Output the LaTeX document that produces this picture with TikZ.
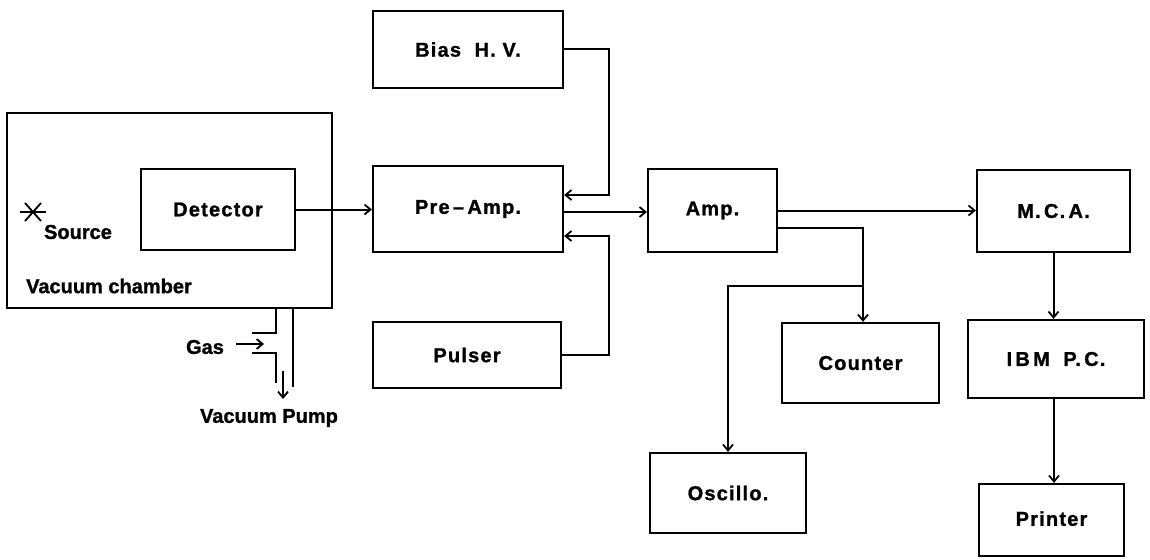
\documentclass[tikz,border=0pt]{standalone}
\usepackage{fontspec}
\setmainfont{Liberation Sans}[BoldFont={Liberation Sans Bold},BoldFeatures={FakeBold=1.2}]
\usetikzlibrary{arrows.meta}
\tikzset{
  box/.style={draw, line width=2.2pt, inner sep=0pt, font=\fontsize{20}{22}\selectfont\bfseries\addfontfeature{LetterSpace=6}},
  lbl/.style={inner sep=0pt, font=\fontsize{20}{22}\selectfont\bfseries},
  wire/.style={line width=2.2pt},
  arr/.style={line width=2pt, -{Straight Barb[length=6pt,width=10pt,line width=1.8pt]}},
}
\begin{document}
\begin{tikzpicture}[x=1pt,y=-1pt]
\useasboundingbox (0,0) rectangle (1150,559);
% boxes
\node[box, minimum width=325pt, minimum height=195pt] (chamber) at (169.5,210.5) {};
\node[box, minimum width=154pt, minimum height=81pt] (det) at (218,209.5) {Detector};
\node[box, minimum width=190pt, minimum height=77pt] (bias) at (468,49.5) {Bias\ \ H.\ V.};
\node[box, minimum width=190pt, minimum height=86pt] (pre) at (468,209) {Pre\,–\,Amp.};
\node[box, minimum width=188pt, minimum height=66pt] (pulser) at (467,355) {Pulser};
\node[box, minimum width=129pt, minimum height=83pt] (amp) at (712.5,210.5) {Amp.};
\node[box, minimum width=153pt, minimum height=82pt] (mca) at (1053.5,211) {M.\,C.\,A.};
\node[box, minimum width=157pt, minimum height=80pt] (counter) at (860.5,363) {Counter};
\node[box, minimum width=156pt, minimum height=80pt] (osc) at (728,493) {Oscillo.};
\node[box, minimum width=176pt, minimum height=78pt] (ibm) at (1056,359) {I\,B\,M\ \ P.\,C.};
\node[box, minimum width=145pt, minimum height=72pt, text depth=0pt, yshift=0pt] (printer) at (1051.5,520) {\raisebox{3pt}{Printer}};
% labels inside chamber
\node[lbl] (srcstar) at (33,212) {};
\draw[line width=1.8pt] (20,212) -- (46,212);
\draw[line width=1.8pt] (25,203) -- (41,221);
\draw[line width=1.8pt] (41,203) -- (25,221);
\node[lbl] (source) at (78,232) {Source};
\node[lbl] (vaclbl) at (109,286) {Vacuum chamber};
% connectors
\draw[arr] (det.east) -- (det.east -| pre.west);
\draw[arr] (bias.east) -- ++(45,0) |- ([yshift=14pt]pre.east);
\draw[arr] (pulser.east) -- ++(47,0) |- ([yshift=-27pt]pre.east);
\draw[arr] ([yshift=-3pt]pre.east) -- ([yshift=-3pt]pre.east -| amp.west);
\draw[arr] (amp.east) -- (amp.east -| mca.west);
\draw[arr] ([yshift=-17pt]amp.east) -| ([xshift=2.5pt]counter.north);
\coordinate (br) at (863,286);
\draw[arr] (br) -| (osc.north);
\draw[arr] (mca.south) -- (mca.south |- ibm.north);
\draw[arr] ([xshift=-2pt]ibm.south) -- ([xshift=-2pt]ibm.south |- printer.north);
% gas and pump pipes
\draw[wire] (276,308) -- (276,333) -- (252,333);
\draw[wire] (252,353) -- (276,353) -- (276,383);
\draw[wire] (293,308) -- (293,387);
\node[lbl] (gas) at (205,347) {Gas};
\draw[arr] (236,344) -- (264,344);
\draw[arr] (283,371) -- (283,399);
\node[lbl] (pump) at (269,418) {Vacuum Pump};
\end{tikzpicture}
\end{document}
